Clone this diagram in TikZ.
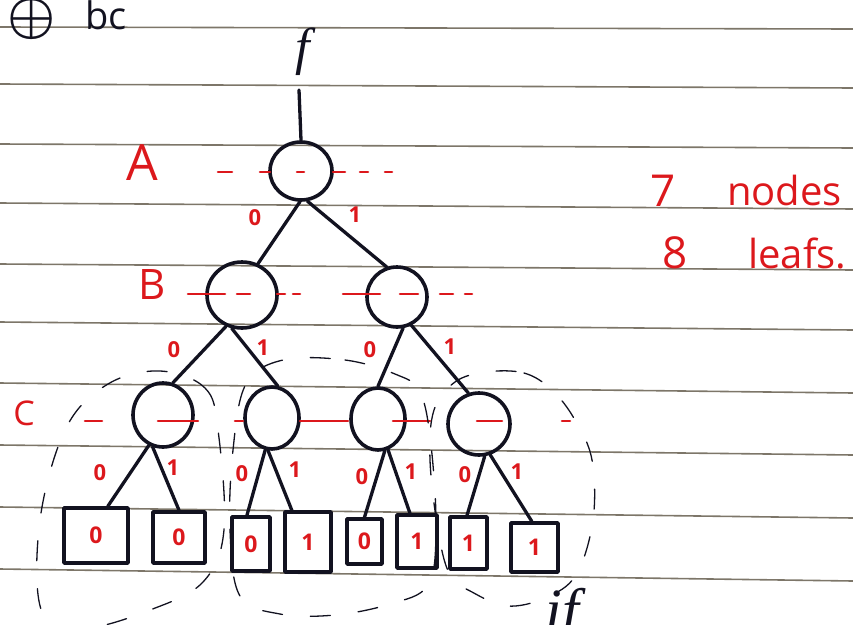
\documentclass[tikz,border=0pt]{standalone}
\usepackage{fontspec}
\setmainfont{Open Sans}
\newfontfamily\serifit{Liberation Serif}
\usetikzlibrary{shapes.geometric}
\definecolor{ink}{RGB}{18,18,32}
\definecolor{pen}{RGB}{220,24,28}
\definecolor{rulecol}{RGB}{125,118,105}
\tikzset{
  inner/.style={ellipse, draw=ink, line width=3.6pt, inner sep=0pt},
  leaf/.style={rectangle, draw=ink, line width=3.6pt, inner sep=0pt, text=pen, font=\bfseries\fontsize{23}{23}\selectfont},
  edge/.style={draw=ink, line width=3.3pt},
  bit/.style={text=pen, font=\bfseries\fontsize{22}{22}\selectfont, inner sep=0pt},
  cutline/.style={draw=pen, line width=2.6pt},
  group/.style={draw=ink, line width=1.3pt, dash pattern=on 20pt off 28pt},
  rul/.style={draw=rulecol, line width=1.6pt},
  redtxt/.style={text=pen, inner sep=0pt},
}
\begin{document}
\begin{tikzpicture}[x=1pt, y=-1pt, line join=round, line cap=round]
\useasboundingbox (0,0) rectangle (853,624);
% ruled paper
\foreach \a/\b in {27/29, 84/88, 144/148, 203/209, 264/270, 322/330, 383/393, 445/455, 507/518, 569/581}
  \draw[rul] (0,\a) -- (853,\b);

% heading
\node[text=ink, inner sep=0pt] (xor) at (32,19) {\scalebox{5.4}{\boldmath$\oplus$}};
\node[text=ink, inner sep=0pt, anchor=base, font=\fontsize{38}{38}\selectfont] (bc) at (106,29) {bc};

% function label and stem
\node[text=ink, inner sep=0pt, font=\serifit\itshape\fontsize{52}{52}\selectfont] (flab) at (303,52) {f};
\coordinate (stemtop) at (299,90);

% internal nodes
\node[inner, minimum width=62pt, minimum height=58pt] (A) at (301,171) {};
\node[inner, minimum width=70pt, minimum height=66pt] (B1) at (242,295) {};
\node[inner, minimum width=60pt, minimum height=60pt] (B2) at (397,297) {};
\node[inner, minimum width=60pt, minimum height=64pt] (C1) at (163,415) {};
\node[inner, minimum width=54pt, minimum height=62pt] (C2) at (272,418) {};
\node[inner, minimum width=54pt, minimum height=62pt] (C3) at (378,419) {};
\node[inner, minimum width=62pt, minimum height=62pt] (C4) at (479,424) {};

% leaves
\node[leaf, minimum width=64pt, minimum height=55pt] (L1) at (96,535.5) {0};
\node[leaf, minimum width=52pt, minimum height=51pt] (L2) at (179,537.5) {0};
\node[leaf, minimum width=38pt, minimum height=54pt] (L3) at (251,544) {0};
\node[leaf, minimum width=46pt, minimum height=60pt] (L4) at (308,542) {1};
\node[leaf, minimum width=35pt, minimum height=45pt] (L5) at (364.5,541.5) {0};
\node[leaf, minimum width=40pt, minimum height=53pt] (L6) at (417,541.5) {1};
\node[leaf, minimum width=37pt, minimum height=52pt] (L7) at (468.5,543) {1};
\node[leaf, minimum width=47pt, minimum height=49pt] (L8) at (534.5,547.5) {1};

% connectors
\draw[edge] (stemtop) -- (A.north);
\draw[edge] (A.268) -- (B1.63);
\draw[edge] (A.282) -- (B2.109);
\draw[edge] (B1.243) -- (C1.73);
\draw[edge] (B1.253) -- (C2.80);
\draw[edge] (B2.281) -- (C3.90);
\draw[edge] (B2.297) -- (C4.109);
\draw[edge] (C1.245) -- (L1.68);
\draw[edge] (C1.252) -- (L2.90);
\draw[edge] (C2.258) -- (L3.98);
\draw[edge] (C2.263) -- (L4.117);
\draw[edge] (C3.282) -- (L5.90);
\draw[edge] (C3.288) -- (L6.104);
\draw[edge] (C4.280) -- (L7.93);
\draw[edge] (C4.290) -- (L8.96);

% edge labels
\node[bit] (eA0) at (255,218) {0};
\node[bit] (eA1) at (355,215) {1};
\node[bit] (eB10) at (174,350) {0};
\node[bit] (eB11) at (263,348) {1};
\node[bit] (eB20) at (370,350) {0};
\node[bit] (eB21) at (450,347) {1};
\node[bit] (eC10) at (100,473) {0};
\node[bit] (eC11) at (173,468) {1};
\node[bit] (eC20) at (242,474) {0};
\node[bit] (eC21) at (295,470) {1};
\node[bit] (eC30) at (362,477) {0};
\node[bit] (eC31) at (411,472) {1};
\node[bit] (eC40) at (465,475) {0};
\node[bit] (eC41) at (517,472) {1};

% level letters
\node[redtxt, font=\fontsize{50}{50}\selectfont] (labA) at (142,163) {A};
\node[redtxt, font=\fontsize{42}{42}\selectfont] (labB) at (152,285) {B};
\node[redtxt, font=\fontsize{34}{34}\selectfont] (labC) at (24,413) {C};

% red dashed level cuts
\foreach \s/\e in {218/232, 260/270, 297/304, 333/345, 360/368, 385/392}
  \draw[cutline] (\s,172) -- (\e,172);
\foreach \s/\e in {188/225, 237/250, 277/285, 293/300, 343/380, 400/418, 440/453, 465/472}
  \draw[cutline] (\s,294) -- (\e,294);
\foreach \s/\e in {85/102, 158/198, 235/243, 300/348, 393/430, 477/502, 562/570}
  \draw[cutline] (\s,421) -- (\e,421);

% dashed groupings
\draw[group] plot[smooth cycle, tension=0.6] coordinates {(160,371) (205,388) (218,430) (224,530) (203,582) (150,610) (85,628) (42,612) (40,520) (66,428) (108,384)};
\draw[group] plot[smooth cycle, tension=0.6] coordinates {(283,360) (345,360) (395,374) (420,392) (431,445) (436,530) (428,585) (390,604) (335,615) (280,614) (240,596) (230,530) (233,450) (246,384)};
\draw[group] plot[smooth cycle, tension=0.6] coordinates {(486,372) (524,373) (552,390) (575,420) (592,460) (593,520) (576,575) (545,598) (507,606) (472,592) (450,575) (438,530) (430,460) (434,410) (455,382)};

% counts
\node[redtxt, anchor=base west, font=\fontsize{44}{44}\selectfont] (seven) at (650,206) {7};
\node[redtxt, anchor=base west, font=\fontsize{40}{40}\selectfont] (nodes) at (727,205) {nodes};
\node[redtxt, anchor=base west, font=\fontsize{44}{44}\selectfont] (eight) at (662,268) {8};
\node[redtxt, anchor=base west, font=\fontsize{40}{40}\selectfont] (leafs) at (748,268) {leafs.};

% partial text at bottom
\node[text=ink, inner sep=0pt, anchor=base, font=\serifit\itshape\fontsize{60}{60}\selectfont] (iflab) at (562,630) {if};
\end{tikzpicture}
\end{document}
